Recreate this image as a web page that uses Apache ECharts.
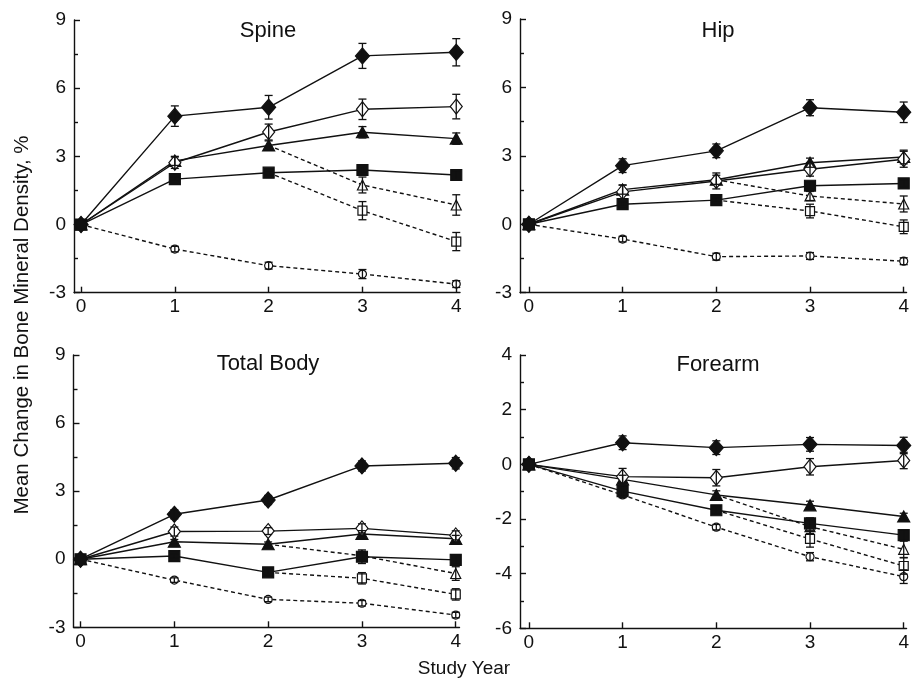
<!DOCTYPE html>
<html><head><meta charset="utf-8">
<script src="https://cdn.jsdelivr.net/npm/echarts@6/dist/echarts.min.js"></script>
<style>html,body{margin:0;padding:0;background:#fff}#c{width:912px;height:681px}</style>
</head><body><div id="c"></div>
<script>
// ---------- data ----------
const years = [0, 1, 2, 3, 4];
const panelTitles = ['Spine', 'Hip', 'Total Body', 'Forearm'];
const yTicksTop = [-3, 0, 3, 6, 9];
const yTicksForearm = [-6, -4, -2, 0, 2, 4];
const xAxisName = 'Study Year';
const yAxisName = 'Mean Change in Bone Mineral Density, %';

// Spine
const spineFD = [0, 4.77, 5.16, 7.42, 7.58];
const spineFDErr = [0, 0.45, 0.52, 0.55, 0.6];
const spineOD = [0, 2.72, 4.07, 5.07, 5.19];
const spineODErr = [0, 0.25, 0.35, 0.45, 0.54];
const spineFT = [0, 2.8, 3.48, 4.06, 3.78];
const spineFTErr = [0, 0.2, 0.2, 0.25, 0.25];
const spineOT = [null, null, 3.48, 1.74, 0.86];
const spineOTErr = [0, 0, 0, 0.35, 0.45];
const spineFS = [0, 2.0, 2.28, 2.4, 2.18];
const spineFSErr = [0, 0.1, 0.1, 0.15, 0.2];
const spineOS = [null, null, 2.28, 0.61, -0.75];
const spineOSErr = [0, 0, 0, 0.4, 0.4];
const spineOC = [0, -1.08, -1.81, -2.18, -2.62];
const spineOCErr = [0, 0.12, 0.15, 0.2, 0.15];

// Hip
const hipFD = [0, 2.57, 3.22, 5.11, 4.91];
const hipFDErr = [0, 0.3, 0.3, 0.35, 0.45];
const hipOD = [0, 1.42, 1.9, 2.41, 2.85];
const hipODErr = [0, 0.3, 0.35, 0.3, 0.35];
const hipFT = [0, 1.52, 1.95, 2.7, 2.95];
const hipFTErr = [0, 0.2, 0.2, 0.2, 0.3];
const hipOT = [null, null, 1.95, 1.24, 0.89];
const hipOTErr = [0, 0, 0, 0.2, 0.35];
const hipFS = [0, 0.88, 1.06, 1.69, 1.79];
const hipFSErr = [0, 0.1, 0.1, 0.15, 0.15];
const hipOS = [null, null, 1.06, 0.58, -0.11];
const hipOSErr = [0, 0, 0, 0.3, 0.3];
const hipOC = [0, -0.65, -1.42, -1.39, -1.62];
const hipOCErr = [0, 0.12, 0.15, 0.15, 0.15];

// Total Body
const bodyFD = [0, 1.98, 2.61, 4.11, 4.23];
const bodyFDErr = [0, 0.2, 0.2, 0.22, 0.25];
const bodyOD = [0, 1.22, 1.24, 1.36, 1.05];
const bodyODErr = [0, 0.2, 0.15, 0.2, 0.2];
const bodyFT = [0, 0.77, 0.66, 1.11, 0.9];
const bodyFTErr = [0, 0.1, 0.1, 0.15, 0.15];
const bodyOT = [null, null, 0.66, 0.15, -0.63];
const bodyOTErr = [0, 0, 0, 0.2, 0.3];
const bodyFS = [0, 0.14, -0.58, 0.11, -0.03];
const bodyFSErr = [0, 0.1, 0.1, 0.3, 0.2];
const bodyOS = [null, null, -0.58, -0.84, -1.55];
const bodyOSErr = [0, 0, 0, 0.25, 0.25];
const bodyOC = [0, -0.92, -1.77, -1.94, -2.46];
const bodyOCErr = [0, 0.1, 0.1, 0.12, 0.12];

// Forearm
const armFD = [0, 0.79, 0.61, 0.73, 0.69];
const armFDErr = [0, 0.25, 0.25, 0.25, 0.3];
const armOD = [0, -0.45, -0.49, -0.09, 0.14];
const armODErr = [0, 0.3, 0.3, 0.3, 0.3];
const armFT = [0, -0.55, -1.12, -1.5, -1.91];
const armFTErr = [0, 0.15, 0.15, 0.15, 0.12];
const armOT = [null, null, -1.12, -2.28, -3.11];
const armOTErr = [0, 0, 0, 0.25, 0.3];
const armFS = [0, -0.98, -1.68, -2.16, -2.59];
const armFSErr = [0, 0.2, 0.15, 0.2, 0.2];
const armOS = [null, null, -1.68, -2.73, -3.72];
const armOSErr = [0, 0, 0, 0.3, 0.3];
const armOC = [0, -1.12, -2.3, -3.38, -4.11];
const armOCErr = [0, 0.1, 0.1, 0.15, 0.25];

// ---------- chart ----------
const FONT = '"Liberation Sans", Arial, Helvetica, sans-serif';
const INK = '#111';

const panels = [
  [[spineOC, spineOCErr], [spineOS, spineOSErr], [spineOT, spineOTErr], [spineFS, spineFSErr], [spineFT, spineFTErr], [spineOD, spineODErr], [spineFD, spineFDErr]],
  [[hipOC, hipOCErr], [hipOS, hipOSErr], [hipOT, hipOTErr], [hipFS, hipFSErr], [hipFT, hipFTErr], [hipOD, hipODErr], [hipFD, hipFDErr]],
  [[bodyOC, bodyOCErr], [bodyOS, bodyOSErr], [bodyOT, bodyOTErr], [bodyFS, bodyFSErr], [bodyFT, bodyFTErr], [bodyOD, bodyODErr], [bodyFD, bodyFDErr]],
  [[armOC, armOCErr], [armOS, armOSErr], [armOT, armOTErr], [armFS, armFSErr], [armFT, armFTErr], [armOD, armODErr], [armFD, armFDErr]]
];
// styles in same order: OC, OS, OT, FS, FT, OD, FD
const styles = [
  { symbol: 'circle', size: 8, fill: '#fff', dashed: true, branch: false },
  { symbol: 'rect', size: 9, fill: '#fff', dashed: true, branch: true },
  { symbol: 'triangle', size: 10, fill: '#fff', dashed: true, branch: true },
  { symbol: 'rect', size: 11, fill: INK, dashed: false },
  { symbol: 'triangle', size: [12, 11], fill: INK, dashed: false },
  { symbol: 'diamond', size: [12, 15], fill: '#fff', dashed: false },
  { symbol: 'diamond', size: [14, 16], fill: INK, dashed: false }
];

const grids = [
  { left: 74, top: 20, width: 386, height: 272.7 },
  { left: 520, top: 19, width: 392, height: 273.7 },
  { left: 73.5, top: 355, width: 386, height: 272.3 },
  { left: 520, top: 355, width: 392, height: 273.3 }
];
const xRanges = [[-0.075, 4.04], [-0.095, 4.03], [-0.075, 4.04], [-0.095, 4.03]];
const yRanges = [[-3, 9, 3], [-3, 9, 3], [-3, 9, 3], [-6, 4, 2]];

const axisLineStyle = { color: INK, width: 1.4 };
const labelStyle = { color: INK, fontSize: 19, fontFamily: FONT };

const xAxes = grids.map((g, i) => ({
  gridIndex: i, type: 'value', min: xRanges[i][0], max: xRanges[i][1],
  axisLine: { show: true, onZero: false, lineStyle: axisLineStyle },
  axisTick: { show: true, inside: true, length: 6, lineStyle: axisLineStyle, customValues: years },
  axisLabel: Object.assign({ margin: 5, customValues: years, formatter: v => String(v) }, labelStyle),
  splitLine: { show: false }
}));
const yAxes = grids.map((g, i) => ({
  gridIndex: i, type: 'value', min: yRanges[i][0], max: yRanges[i][1], interval: yRanges[i][2],
  axisLine: { show: true, onZero: false, lineStyle: axisLineStyle },
  axisTick: { show: true, inside: true, length: 6, lineStyle: axisLineStyle },
  minorTick: { show: true, splitNumber: 2, length: 4, lineStyle: axisLineStyle },
  axisLabel: Object.assign({ margin: 8 }, labelStyle),
  splitLine: { show: false }, minorSplitLine: { show: false }
}));

const series = [];
panels.forEach((panel, p) => {
  panel.forEach(([vals, errs], k) => {
    const st = styles[k];
    const data = [];
    vals.forEach((v, j) => {
      if (v === null) return;
      const item = { value: [years[j], v] };
      if (st.branch && j === 2) item.symbol = 'none';
      data.push(item);
    });
    series.push({
      type: 'line', xAxisIndex: p, yAxisIndex: p, data: data,
      symbol: st.symbol, symbolSize: st.size, z: 2 + k,
      showAllSymbol: true, animation: false, silent: true,
      lineStyle: { color: INK, width: 1.4, type: st.dashed ? [4, 3] : 'solid' },
      itemStyle: { color: st.fill, borderColor: INK, borderWidth: 1.2 }
    });
    const errData = [];
    vals.forEach((v, j) => {
      if (v === null || !errs[j]) return;
      errData.push([years[j], v, errs[j]]);
    });
    series.push({
      type: 'custom', xAxisIndex: p, yAxisIndex: p, data: errData, z: 20,
      animation: false, silent: true,
      renderItem: function (params, api) {
        const x = api.value(0), y = api.value(1), e = api.value(2);
        const lo = api.coord([x, y - e]);
        const hi = api.coord([x, y + e]);
        const cw = 4;
        const ls = { stroke: INK, lineWidth: 1.3 };
        return {
          type: 'group',
          children: [
            { type: 'line', shape: { x1: lo[0], y1: lo[1], x2: hi[0], y2: hi[1] }, style: ls },
            { type: 'line', shape: { x1: lo[0] - cw, y1: lo[1], x2: lo[0] + cw, y2: lo[1] }, style: ls },
            { type: 'line', shape: { x1: hi[0] - cw, y1: hi[1], x2: hi[0] + cw, y2: hi[1] }, style: ls }
          ]
        };
      }
    });
  });
});

const titleCenters = [[268, 31], [718, 31], [268, 364], [718, 365]];
const graphic = panelTitles.map((t, i) => ({
  type: 'text', x: titleCenters[i][0], y: titleCenters[i][1],
  style: { text: t, font: '22px ' + FONT, fill: INK, align: 'center', verticalAlign: 'middle', textAlign: 'center', textVerticalAlign: 'middle' }
}));
graphic.push({
  type: 'text', x: 464, y: 669,
  style: { text: xAxisName, font: '19px ' + FONT, fill: INK, align: 'center', verticalAlign: 'middle', textAlign: 'center', textVerticalAlign: 'middle' }
});
graphic.push({
  type: 'text', x: 22, y: 325, rotation: Math.PI / 2,
  style: { text: yAxisName, font: '20.5px ' + FONT, fill: INK, align: 'center', verticalAlign: 'middle', textAlign: 'center', textVerticalAlign: 'middle' }
});

const chart = echarts.init(document.getElementById('c'), null, { renderer: 'canvas' });
chart.setOption({
  backgroundColor: '#fff',
  animation: false,
  grid: grids,
  xAxis: xAxes,
  yAxis: yAxes,
  series: series,
  graphic: graphic
});
</script>
</body></html>
